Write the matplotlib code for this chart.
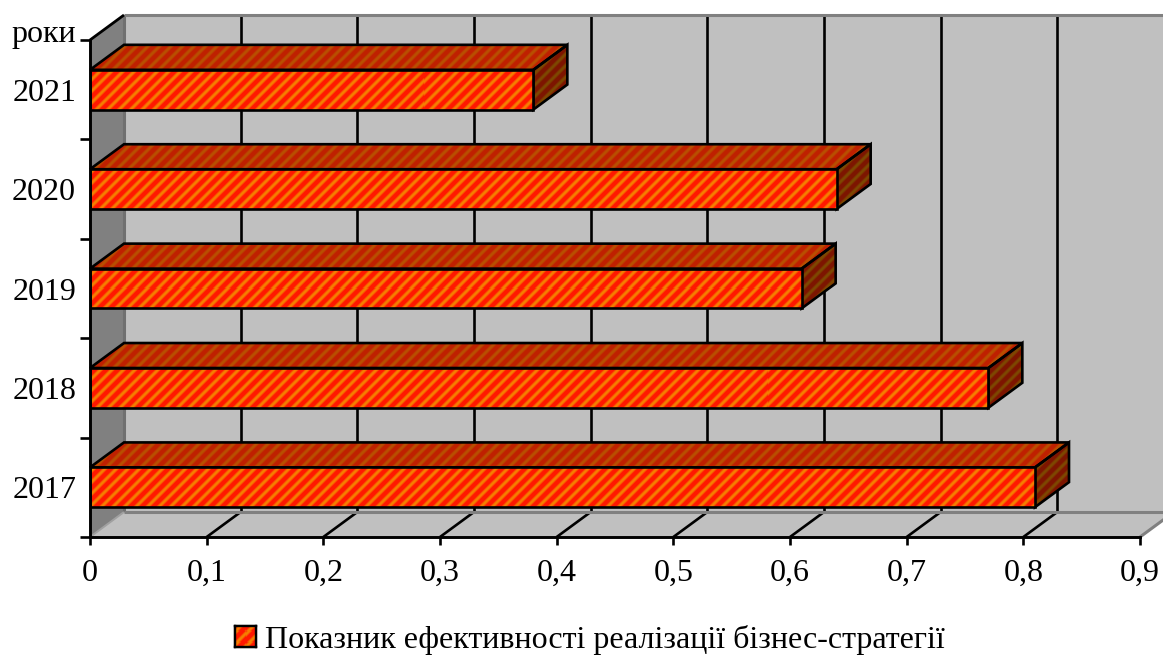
import numpy as np
import matplotlib
matplotlib.use("Agg")
import matplotlib.pyplot as plt
from matplotlib.patches import Polygon, Patch
from matplotlib.transforms import Bbox

# Efficiency of business-strategy implementation by year
years = ["2017", "2018", "2019", "2020", "2021"]
values = [0.81, 0.77, 0.61, 0.64, 0.38]
x_ticks = [0, 0.1, 0.2, 0.3, 0.4, 0.5, 0.6, 0.7, 0.8, 0.9]
x_tick_labels = ["0", "0,1", "0,2", "0,3", "0,4", "0,5", "0,6", "0,7", "0,8", "0,9"]
y_title = "роки"
legend_label = "Показник ефективності реалізації бізнес-стратегії"

W, H = 1163, 657
AX_W, AX_H = 1050, 497
plt.rcParams["font.family"] = ["Liberation Serif", "DejaVu Serif"]

fig = plt.figure(figsize=(W / 100, H / 100), dpi=100)
ax = fig.add_axes([90 / W, (H - 537) / H, AX_W / W, AX_H / H])

# Oblique offset of the fake 3D depth, in data units
DX = 34 / (AX_W / 0.9)
DY = 25 / (AX_H / 5)
BAR_H = 0.4
INK = "black"
EDGE_W = 1.9
GREY_W = 2.2
WALL_END = 0.9 + DX


def stripes(color_a, color_b, width=AX_W, height=AX_H, period=11.5):
    """Soft diagonal stripes running from lower left to upper right."""
    rows, cols = np.mgrid[0:height, 0:width]
    mix = 0.5 + 0.5 * np.cos(2 * np.pi * (cols + rows) / period)
    mix = np.clip((mix - 0.35) * 1.5 + 0.5, 0, 1)[..., None]
    a = np.array(matplotlib.colors.to_rgb(color_a))
    b = np.array(matplotlib.colors.to_rgb(color_b))
    return a * mix + b * (1 - mix)


FRONT = stripes("#ff1800", "#f58000")
TOP = stripes("#bf2000", "#b85000")
SIDE = stripes("#7d1500", "#7d4800")


def fill_texture(patch, texture, z):
    im = ax.imshow(texture, extent=(0, 0.9, 0, 5), aspect="auto", origin="upper",
                   interpolation="nearest", zorder=z)
    im.set_clip_path(patch)


def shape(points, fill, z=1):
    ax.add_patch(Polygon(points, closed=True, facecolor=fill, edgecolor="none",
                         zorder=z, clip_on=False))


def face(points, texture, z=3):
    outline = Polygon(points, closed=True, fill=False, edgecolor=INK, linewidth=EDGE_W,
                      zorder=z + 0.1, clip_on=False, joinstyle="miter")
    ax.add_patch(outline)
    fill_texture(outline, texture, z)


def seg(xs, ys, color=INK, lw=EDGE_W, z=1.5):
    ax.plot(xs, ys, color=color, lw=lw, zorder=z, clip_on=False, solid_capstyle="butt")


# Back wall, floor and side wall
shape([(DX, DY), (WALL_END, DY), (WALL_END, 5 + DY), (DX, 5 + DY)], "#c0c0c0")
shape([(0, 0), (0.9, 0), (WALL_END, DY), (DX, DY)], "#c0c0c0")
shape([(0, 0), (DX, DY), (DX, 5 + DY), (0, 5)], "#808080")

# Grid on the wall and on the floor
for t in x_ticks[1:-1]:
    seg([t + DX, t + DX], [DY, 5 + DY])
    seg([t, t + DX], [0, DY])
seg([DX, DX], [DY, 5 + DY], color="#707070", lw=GREY_W)
seg([DX, WALL_END], [DY, DY], color="#808080", lw=GREY_W)
seg([DX, WALL_END], [5 + DY, 5 + DY], color="#808080", lw=GREY_W)
seg([0, DX], [0, DY], color="#a0a0a0", lw=1.4)
seg([0.9, WALL_END], [0, DY], color="#808080", lw=GREY_W)
seg([0, DX], [5, 5 + DY], lw=2)

# Bars: front from barh, top and side faces offset by the depth
positions = [i + 0.5 for i in range(len(years))]
for y, v in zip(positions, values):
    lo, hi = y - BAR_H / 2, y + BAR_H / 2
    face([(0, hi), (v, hi), (v + DX, hi + DY), (DX, hi + DY)], TOP)
    face([(v, lo), (v + DX, lo + DY), (v + DX, hi + DY), (v, hi)], SIDE)
bars = ax.barh(positions, values, height=BAR_H, fill=False, edgecolor=INK,
               linewidth=EDGE_W, zorder=4.1)
for bar in bars:
    fill_texture(bar, FRONT, 4)

ax.set_xlim(0, 0.9)
ax.set_ylim(0, 5)

# Axes
for name in ("top", "right"):
    ax.spines[name].set_visible(False)
ax.patch.set_visible(False)
for name in ("left", "bottom"):
    ax.spines[name].set_linewidth(2.1)
    ax.spines[name].set_zorder(5)
ax.set_xticks(x_ticks, x_tick_labels)
ax.set_yticks(range(6), [""] * 6)
ax.set_yticks(positions, years, minor=True)
ax.tick_params(axis="x", length=6, width=1.9, labelsize=23, pad=10)
ax.tick_params(axis="y", which="major", length=7, width=1.9)
ax.tick_params(axis="y", which="minor", length=0, labelsize=23, pad=10)
ax.text(-14 / (AX_W / 0.9), 5.06, y_title, ha="right", va="center", fontsize=23)

# Legend with a striped swatch laid over its key
handle = Patch(facecolor="#ff2000", edgecolor=INK, linewidth=1.6)
legend = fig.legend(handles=[handle], labels=[legend_label], loc="center",
                    bbox_to_anchor=(590 / W, 1 - 640 / H), frameon=False, fontsize=23,
                    handlelength=0.65, handleheight=0.65, handletextpad=0.3, borderpad=0)
fig.canvas.draw()
key = legend.legend_handles[0].get_window_extent()
swatch = fig.add_axes(Bbox.from_extents(key.x0 / W, key.y0 / H, key.x1 / W, key.y1 / H))
swatch.set_zorder(10)
swatch.imshow(stripes("#ff1800", "#f58000", 20, 20), aspect="auto", interpolation="nearest")
swatch.set_xticks([])
swatch.set_yticks([])
for spine in swatch.spines.values():
    spine.set_linewidth(1.7)

fig.savefig("out.png", dpi=100)
